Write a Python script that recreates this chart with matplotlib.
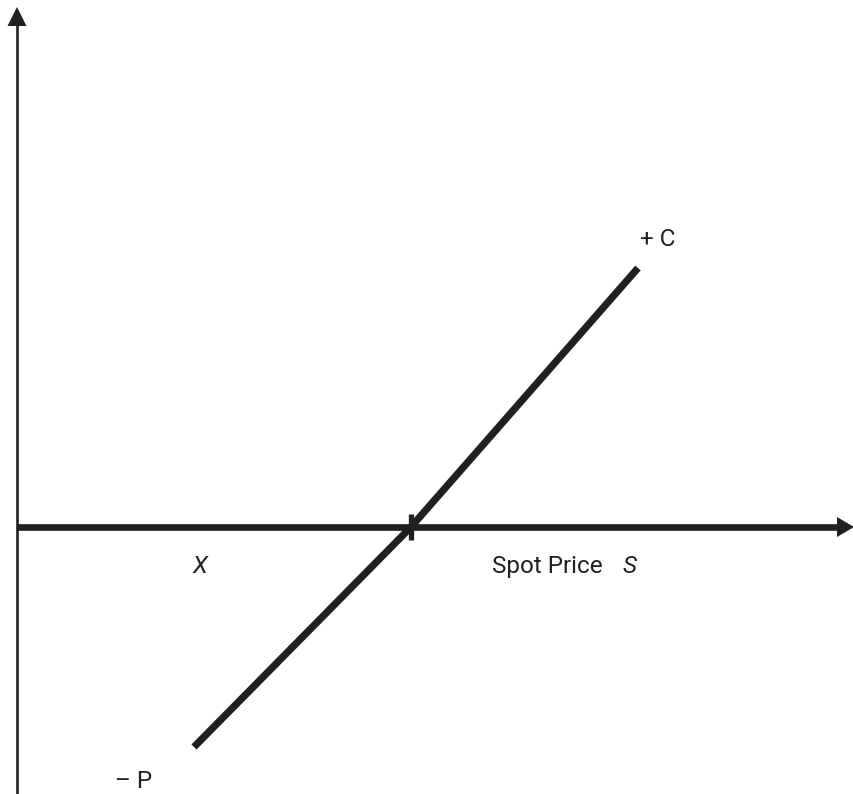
import matplotlib
matplotlib.use("Agg")
import matplotlib.pyplot as plt
from matplotlib.patches import Polygon

# Payoff line (spot price vs payoff), in axis units
spot = [177, 394, 621]
payoff = [-220, 0, 259]
strike = 394

labels_upper = "+ C"
labels_lower = "– P"
x_label = "Spot Price"

INK = "#231f20"
FONT = ["Roboto", "DejaVu Sans"]

fig = plt.figure(figsize=(8.54, 7.94), dpi=100)
ax = fig.add_axes([0, 0, 1, 1])
ax.set_xlim(-17, 837)
ax.set_ylim(-267, 527)
ax.axis("off")

# vertical axis
ax.plot([0, 0], [-267, 527 - 24], color=INK, lw=1.9, solid_capstyle="butt")
ax.add_patch(Polygon([[0, 527 - 7], [-9.5, 527 - 26], [9.5, 527 - 26]],
                     closed=True, color=INK, lw=0))
# horizontal axis
ax.plot([0, 822], [0, 0], color=INK, lw=4.8, solid_capstyle="butt")
ax.add_patch(Polygon([[837, 0], [820, 10], [820, -10]],
                     closed=True, color=INK, lw=0))
# strike tick
ax.plot([strike, strike], [-13, 13], color=INK, lw=3.8, solid_capstyle="butt")

# payoff line
ax.plot(spot, payoff, color=INK, lw=5.2, solid_capstyle="butt",
        solid_joinstyle="miter")

fs = 17.5
ax.text(640 - 17, 527 - 246, labels_upper, fontsize=fs, family=FONT,
        color=INK, ha="left", va="baseline")
ax.text(115 - 17, 527 - 788, labels_lower, fontsize=fs, family=FONT,
        color=INK, ha="left", va="baseline")
ax.text(193 - 17, 527 - 573, "X", fontsize=fs, family=FONT, style="italic",
        color=INK, ha="left", va="baseline")
ax.text(492 - 17, 527 - 573, x_label, fontsize=fs, family=FONT,
        color=INK, ha="left", va="baseline")
ax.text(623 - 17, 527 - 573, "S", fontsize=fs, family=FONT, style="italic",
        color=INK, ha="left", va="baseline")

fig.savefig("out.png", dpi=100)
